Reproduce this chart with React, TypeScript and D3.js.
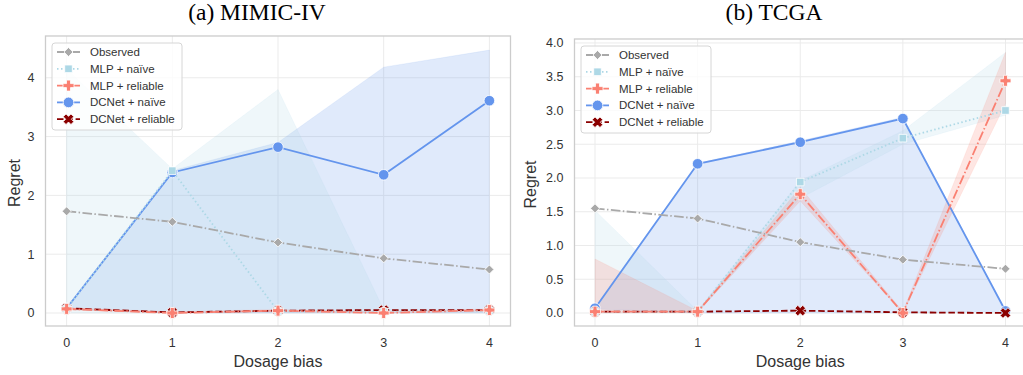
import React from 'react';
import * as d3 from 'd3';

// ---------- data ----------
const doses = [0, 1, 2, 3, 4];
const seriesNames = ['Observed', 'MLP + naïve', 'MLP + reliable', 'DCNet + naïve', 'DCNet + reliable'];
const seriesColors = ['#a9a9a9', '#add8e6', '#fa8072', '#6495ed', '#8b0000'];
const seriesDashes = ['9.6,2.4,1.5,2.4', '1.5,2.5', '9.6,2.4,1.5,2.4', '', '6.5,2.8'];
const seriesMarkers = ['diamond', 'square', 'plus', 'circle', 'x'];
const drawOrder = [3, 4, 1, 2, 0];

const mimicTicksY = [0, 1, 2, 3, 4];
const mimicObserved = [1.73, 1.55, 1.2, 0.93, 0.74];
const mimicMlpNaive = [0.07, 2.42, 0.03, 0.02, 0.04];
const mimicMlpNaiveLo = [0, 0, 0, 0, 0];
const mimicMlpNaiveHi = [4.15, 2.45, 3.8, 0.06, 0.05];
const mimicMlpReliable = [0.07, 0.0, 0.04, 0.0, 0.05];
const mimicMlpReliableLo = [0.05, 0.0, 0.02, 0.0, 0.03];
const mimicMlpReliableHi = [0.09, 0.02, 0.06, 0.02, 0.07];
const mimicDcNaive = [0.08, 2.39, 2.82, 2.35, 3.61];
const mimicDcNaiveLo = [0.06, 0, 0, 0, 0];
const mimicDcNaiveHi = [0.1, 2.42, 2.9, 4.18, 4.47];
const mimicDcReliable = [0.08, 0.01, 0.04, 0.05, 0.05];

const tcgaTicksY = [0, 0.5, 1, 1.5, 2, 2.5, 3, 3.5, 4];
const tcgaObserved = [1.55, 1.4, 1.05, 0.79, 0.655];
const tcgaMlpNaive = [0.02, 0.02, 1.94, 2.59, 3.0];
const tcgaMlpNaiveLo = [0, 0.01, 1.7, 2.5, 2.93];
const tcgaMlpNaiveHi = [1.52, 0.03, 1.96, 2.7, 3.86];
const tcgaMlpReliable = [0.02, 0.02, 1.76, 0.0, 3.44];
const tcgaMlpReliableLo = [0, 0.01, 1.66, 0.0, 3.1];
const tcgaMlpReliableHi = [0.8, 0.03, 1.86, 0.02, 3.86];
const tcgaDcNaive = [0.07, 2.21, 2.53, 2.88, 0.03];
const tcgaDcNaiveLo = [0.06, 0, 0, 0, 0.02];
const tcgaDcNaiveHi = [0.08, 2.22, 2.55, 2.9, 0.04];
const tcgaDcReliable = [0.02, 0.02, 0.035, 0.01, 0.0];

type Series = { mean: number[]; lo?: number[]; hi?: number[] };

const mimicSeries: Series[] = [
  { mean: mimicObserved },
  { mean: mimicMlpNaive, lo: mimicMlpNaiveLo, hi: mimicMlpNaiveHi },
  { mean: mimicMlpReliable, lo: mimicMlpReliableLo, hi: mimicMlpReliableHi },
  { mean: mimicDcNaive, lo: mimicDcNaiveLo, hi: mimicDcNaiveHi },
  { mean: mimicDcReliable },
];
const tcgaSeries: Series[] = [
  { mean: tcgaObserved },
  { mean: tcgaMlpNaive, lo: tcgaMlpNaiveLo, hi: tcgaMlpNaiveHi },
  { mean: tcgaMlpReliable, lo: tcgaMlpReliableLo, hi: tcgaMlpReliableHi },
  { mean: tcgaDcNaive, lo: tcgaDcNaiveLo, hi: tcgaDcNaiveHi },
  { mean: tcgaDcReliable },
];

const SANS = '"Liberation Sans", Arial, Helvetica, sans-serif';
const SERIF = '"Liberation Serif", "Times New Roman", Times, serif';

function markerPath(kind: string): string {
  switch (kind) {
    case 'diamond': {
      const s = 4.5;
      return `M0,${-s}L${s},0L0,${s}L${-s},0Z`;
    }
    case 'square': {
      const s = 3.8;
      return `M${-s},${-s}H${s}V${s}H${-s}Z`;
    }
    case 'plus': {
      const a = 5.5, t = 2.0;
      return `M${-t},${-a}H${t}V${-t}H${a}V${t}H${t}V${a}H${-t}V${t}H${-a}V${-t}H${-t}Z`;
    }
    case 'x': {
      const a = 5.5, t = 2.0;
      const pts = [[-t, -a], [t, -a], [t, -t], [a, -t], [a, t], [t, t], [t, a], [-t, a], [-t, t], [-a, t], [-a, -t], [-t, -t]];
      const c = Math.SQRT1_2;
      return 'M' + pts.map(([x, y]) => `${((x - y) * c).toFixed(2)},${((x + y) * c).toFixed(2)}`).join('L') + 'Z';
    }
    default:
      return d3.symbol(d3.symbolCircle, 88)() as string;
  }
}

type PanelProps = {
  left: number; top: number; right: number; bottom: number;
  yDomain: [number, number];
  yTicks: number[];
  yFmt: (v: number) => string;
  series: Series[];
  title: string; titleX: number;
  ylabelX: number;
  legendX: number; legendY: number;
};

function Panel(p: PanelProps) {
  const x = d3.scaleLinear().domain([-0.2, 4.2]).range([p.left, p.right]);
  const y = d3.scaleLinear().domain(p.yDomain).range([p.bottom, p.top]);
  const line = d3.line<number>().x((_, i) => x(doses[i])).y((v) => y(v));
  const area = (s: Series) =>
    d3.area<number>().x((_, i) => x(doses[i])).y0((_, i) => y(s.lo![i])).y1((_, i) => y(s.hi![i]))(s.mean) as string;
  const clipId = `clip-${Math.round(p.left)}`;
  const cx = (p.left + p.right) / 2;
  const rowH = 16.8;
  return (
    <g>
      <text x={p.titleX} y={20} textAnchor="middle" fontFamily={SERIF} fontSize={23.5} fill="#000">{p.title}</text>
      <defs>
        <clipPath id={clipId}>
          <rect x={p.left} y={p.top} width={p.right - p.left} height={p.bottom - p.top} />
        </clipPath>
      </defs>
      <rect x={p.left} y={p.top} width={p.right - p.left} height={p.bottom - p.top} fill="#fff" />
      {doses.map((d) => (
        <line key={'gx' + d} x1={x(d)} x2={x(d)} y1={p.top} y2={p.bottom} stroke="#ebebeb" strokeWidth={1} />
      ))}
      {p.yTicks.map((t) => (
        <line key={'gy' + t} x1={p.left} x2={p.right} y1={y(t)} y2={y(t)} stroke="#ebebeb" strokeWidth={1} />
      ))}
      <g clipPath={`url(#${clipId})`}>
        {drawOrder.map((i) =>
          p.series[i].lo ? (
            <path key={'band' + i} d={area(p.series[i])} fill={seriesColors[i]} fillOpacity={0.2} stroke={seriesColors[i]} strokeOpacity={0.2} strokeWidth={0.5} />
          ) : null
        )}
        {drawOrder.map((i) => (
          <g key={'ser' + i}>
            <path d={line(p.series[i].mean) as string} fill="none" stroke={seriesColors[i]} strokeWidth={1.8}
              strokeDasharray={seriesDashes[i] || undefined} />
            {p.series[i].mean.map((v, j) => (
              <path key={j} d={markerPath(seriesMarkers[i])} transform={`translate(${x(doses[j])},${y(v)})`}
                fill={seriesColors[i]} stroke="#fff" strokeWidth={0.8} />
            ))}
          </g>
        ))}
      </g>
      <rect x={p.left} y={p.top} width={p.right - p.left} height={p.bottom - p.top} fill="none" stroke="#cccccc" strokeWidth={1.3} />
      {doses.map((d) => (
        <text key={'tx' + d} x={x(d)} y={347} textAnchor="middle" fontFamily={SANS} fontSize={12.5} fill="#333">{d}</text>
      ))}
      {p.yTicks.map((t) => (
        <text key={'ty' + t} x={p.left - 11} y={y(t)} dy="0.35em" textAnchor="end" fontFamily={SANS} fontSize={12.5} fill="#333">{p.yFmt(t)}</text>
      ))}
      <text x={cx} y={367} textAnchor="middle" fontFamily={SANS} fontSize={16} fill="#333">Dosage bias</text>
      <text transform={`translate(${p.ylabelX},${(p.top + p.bottom) / 2 + 2}) rotate(-90)`} textAnchor="middle" fontFamily={SANS} fontSize={16} fill="#333">Regret</text>
      <g transform={`translate(${p.legendX},${p.legendY})`}>
        <rect x={0} y={0} width={130} height={87} rx={3} fill="#fff" fillOpacity={0.8} stroke="#d6d6d6" strokeWidth={1} />
        {seriesNames.map((n, i) => {
          const ly = 9 + i * rowH;
          return (
            <g key={n}>
              <line x1={5} x2={28} y1={ly} y2={ly} stroke={seriesColors[i]} strokeWidth={1.8} strokeDasharray={seriesDashes[i] || undefined} />
              <path d={markerPath(seriesMarkers[i])} transform={`translate(16.5,${ly})`} fill={seriesColors[i]} stroke="#fff" strokeWidth={0.8} />
              <text x={38} y={ly} dy="0.35em" fontFamily={SANS} fontSize={11.5} fill="#333">{n}</text>
            </g>
          );
        })}
      </g>
    </g>
  );
}

export default function App() {
  return (
    <svg width={1023} height={375} style={{ position: 'absolute', left: 0, top: 0, background: '#fff' }}>
      <rect x={0} y={0} width={1023} height={375} fill="#fff" />
      <Panel left={45.5} top={36} right={510.5} bottom={326} yDomain={[-0.221, 4.71]} yTicks={mimicTicksY}
        yFmt={(v) => String(v)} series={mimicSeries} title="(a) MIMIC-IV" titleX={257} ylabelX={20}
        legendX={52} legendY={43} />
      <Panel left={574.5} top={39} right={1026} bottom={326} yDomain={[-0.1926, 4.059]} yTicks={tcgaTicksY}
        yFmt={(v) => v.toFixed(1)} series={tcgaSeries} title="(b) TCGA" titleX={774} ylabelX={536}
        legendX={581} legendY={46} />
    </svg>
  );
}
